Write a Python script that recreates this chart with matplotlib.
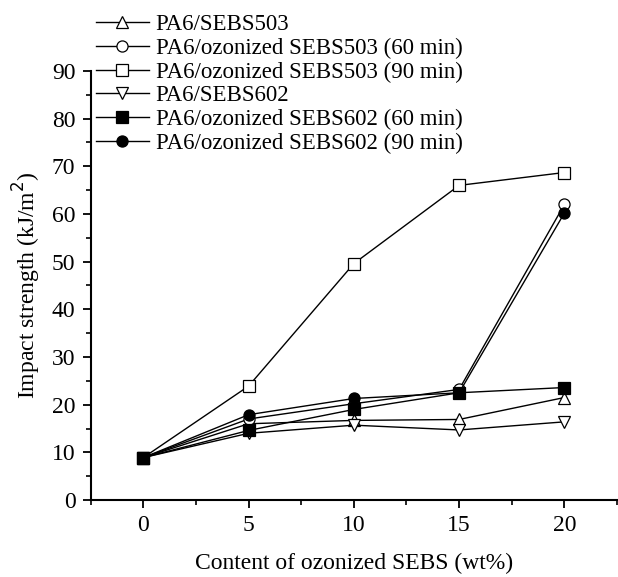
import numpy as np
import matplotlib
matplotlib.use("Agg")
import matplotlib.pyplot as plt
from matplotlib.ticker import MultipleLocator

plt.rcParams['font.family'] = ['Liberation Serif', 'DejaVu Serif']

content = [0, 5, 10, 15, 20]
labels = ['PA6/SEBS503',
          'PA6/ozonized SEBS503 (60 min)',
          'PA6/ozonized SEBS503 (90 min)',
          'PA6/SEBS602',
          'PA6/ozonized SEBS602 (60 min)',
          'PA6/ozonized SEBS602 (90 min)']
sebs503 = [8.9, 16.0, 16.7, 16.9, 21.5]
oz503_60 = [8.9, 17.0, 20.2, 23.2, 62.0]
oz503_90 = [8.9, 23.9, 49.6, 66.0, 68.7]
sebs602 = [8.9, 14.0, 15.7, 14.7, 16.4]
oz602_60 = [8.9, 14.6, 19.0, 22.5, 23.6]
oz602_90 = [8.9, 17.9, 21.3, 22.5, 60.2]

series = [sebs503, oz503_60, oz503_90, sebs602, oz602_60, oz602_90]
markers = ['^', 'o', 's', 'v', 's', 'o']
faces = ['white', 'white', 'white', 'white', 'black', 'black']

fig = plt.figure(figsize=(6.18, 5.77), dpi=100)
ax = fig.add_axes([0.1468, 0.1334, 0.8516, 0.7436])

for y, m, fc, lab in zip(series, markers, faces, labels):
    ax.plot(content, y, color='black', lw=1, marker=m, markersize=8,
            markerfacecolor=fc, markeredgecolor='black', markeredgewidth=0.9,
            label=lab)

ax.set_xlim(-2.5, 22.5)
ax.set_ylim(0, 90)
ax.xaxis.set_major_locator(MultipleLocator(5))
ax.xaxis.set_minor_locator(MultipleLocator(2.5))
ax.yaxis.set_major_locator(MultipleLocator(10))
ax.yaxis.set_minor_locator(MultipleLocator(5))
ax.set_xticks([0, 5, 10, 15, 20])
ax.spines['top'].set_visible(False)
ax.spines['right'].set_visible(False)
ax.spines['left'].set_linewidth(1.5)
ax.spines['bottom'].set_linewidth(1.5)
ax.tick_params(which='major', direction='out', length=6, width=1.3, labelsize=17, pad=5)
ax.tick_params(which='minor', direction='out', length=3.5, width=1.2)
ax.set_xlabel('Content of ozonized SEBS (wt%)', fontsize=17, labelpad=12)
ax.set_ylabel('Impact strength (kJ/m$^2$)', fontsize=17, labelpad=6)

fig.legend(loc='upper left', bbox_to_anchor=(0.133, 1.0), frameon=False,
           fontsize=16.5, handlelength=2.3, labelspacing=0.12, handletextpad=0.3,
           borderaxespad=0.2)

fig.savefig('out.png', dpi=100)
